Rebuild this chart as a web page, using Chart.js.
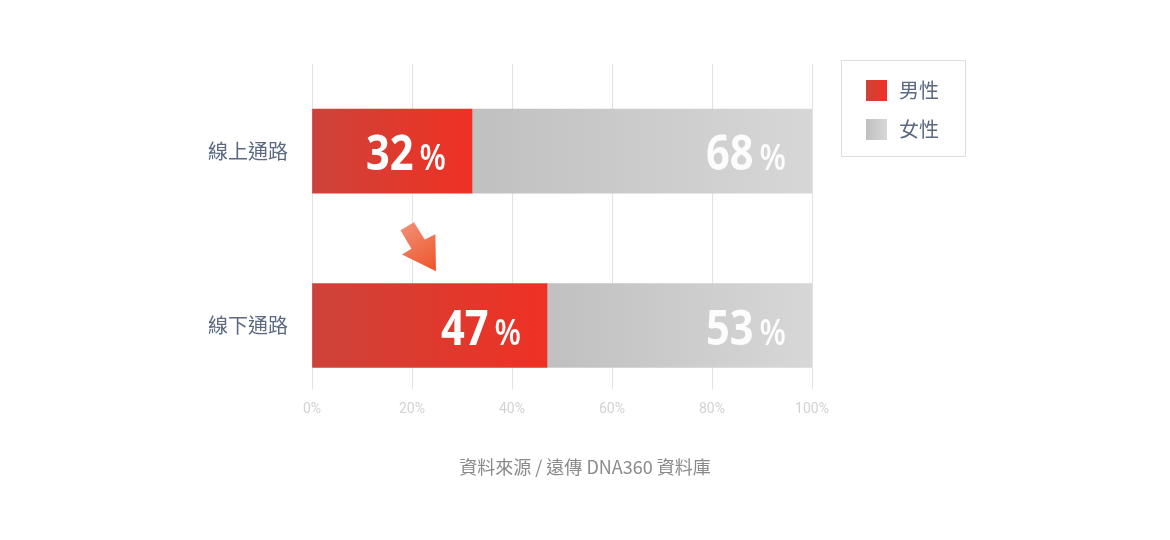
<!DOCTYPE html>
<html>
<head>
<meta charset="utf-8">
<title>線上 / 線下通路 性別比例</title>
<script src="https://cdn.jsdelivr.net/npm/chart.js@4.4.1/dist/chart.umd.min.js"></script>
<style>
  html, body { margin: 0; padding: 0; background: #fff; }
  #wrap { position: relative; width: 1170px; height: 540px; }
  #legend {
    position: absolute; left: 841px; top: 60px; width: 123px; height: 95px;
    border: 1px solid #dedede; box-sizing: content-box;
  }
  .item { position: absolute; left: 24px; height: 22px; display: flex; align-items: center; }
  .sw { width: 21px; height: 21px; margin-right: 12px; }
  .lbl { font: 20px "Noto Sans CJK TC", sans-serif; color: #5b6a82; line-height: 22px; }
  #source {
    position: absolute; left: 0; width: 1170px; top: 453px; text-align: center;
    font: 18px "Noto Sans CJK TC", sans-serif; color: #8a8a8a;
  }
</style>
</head>
<body>
<div id="wrap">
  <canvas id="chart" width="1170" height="540"></canvas>
  <div id="legend"></div>
  <div id="source">資料來源 / 遠傳 DNA360 資料庫</div>
</div>
<script>
// data
const channels = ['線上通路', '線下通路'];
const seriesNames = ['男性', '女性'];
const male = [32, 47];
const female = [68, 53];
const xTicks = [0, 20, 40, 60, 80, 100];

// colours (left -> right of each bar segment)
const maleStops = ['#cd4339', '#ef3124'];
const femaleStops = ['#c0c0c0', '#d7d7d7'];

function segmentFill(stops, startOf, endOf) {
  return (c) => {
    const chart = c.chart;
    if (!chart.chartArea || !chart.scales.x) return stops[1];
    const x = chart.scales.x;
    const i = c.dataIndex;
    const g = chart.ctx.createLinearGradient(
      x.getPixelForValue(startOf(i)), 0, x.getPixelForValue(endOf(i)), 0);
    g.addColorStop(0, stops[0]);
    g.addColorStop(1, stops[1]);
    return g;
  };
}

// big white percentage inside each bar segment
const valueLabels = {
  id: 'valueLabels',
  afterDatasetsDraw(chart) {
    const ctx = chart.ctx;
    chart.data.datasets.forEach((ds, di) => {
      chart.getDatasetMeta(di).data.forEach((bar, i) => {
        const end = bar.x - 26;
        const base = bar.y + 19;
        ctx.save();
        ctx.fillStyle = di === 0 ? '#ffffff' : 'rgba(255,255,255,0.93)';
        ctx.textBaseline = 'alphabetic';
        ctx.textAlign = 'right';
        ctx.translate(end, base);
        ctx.scale(0.85, 1);
        ctx.font = '600 36px "Open Sans", sans-serif';
        const pw = ctx.measureText('%').width;
        ctx.fillText('%', 0, 0);
        ctx.font = 'bold 49px "Open Sans", sans-serif';
        ctx.fillText(String(ds.data[i].x), -pw - 7, 0);
        ctx.restore();
      });
    });
  }
};

// decorative arrow pointing at the rise of the male share
const trendArrow = {
  id: 'trendArrow',
  afterDatasetsDraw(chart) {
    const {x, y} = chart.scales;
    const tx = x.getPixelForValue(24.8);
    const ty = y.getPixelForValue(0.688);
    const pts = [[-35.6, -41], [-22, -49], [-11.3, -31.7], [-0.6, -37], [0, 0], [-34, -16.7], [-24.6, -22.4]];
    const ctx = chart.ctx;
    ctx.save();
    const g = ctx.createLinearGradient(tx - 30, ty - 45, tx, ty);
    g.addColorStop(0, '#f18b70');
    g.addColorStop(1, '#ee5528');
    ctx.fillStyle = g;
    ctx.beginPath();
    pts.forEach(([dx, dy], k) => k ? ctx.lineTo(tx + dx, ty + dy) : ctx.moveTo(tx + dx, ty + dy));
    ctx.closePath();
    ctx.fill();
    ctx.restore();
  }
};

const chart = new Chart(document.getElementById('chart'), {
  type: 'bar',
  data: {
    datasets: [
      {
        label: seriesNames[0],
        data: male.map((v, i) => ({x: v, y: i})),
        backgroundColor: segmentFill(maleStops, () => 0, (i) => male[i])
      },
      {
        label: seriesNames[1],
        data: female.map((v, i) => ({x: v, y: i})),
        backgroundColor: segmentFill(femaleStops, (i) => male[i], () => 100)
      }
    ]
  },
  options: {
    indexAxis: 'y',
    responsive: false,
    animation: false,
    barThickness: 84,
    borderWidth: 0,
    layout: { padding: { top: 64, right: 358, bottom: 111, left: 0 } },
    plugins: { legend: { display: false }, tooltip: { enabled: false } },
    scales: {
      x: {
        type: 'linear',
        min: 0, max: 100,
        stacked: true,
        border: { display: false },
        grid: { color: '#e2e2e2', lineWidth: 1, drawTicks: false },
        afterBuildTicks: (s) => { s.ticks = xTicks.map((v) => ({value: v})); },
        ticks: {
          callback: (v) => v + '%',
          color: '#d2d2d2',
          padding: 12,
          font: { family: 'Roboto, sans-serif', size: 14 }
        },
        afterFit: (s) => { s.height = 40; }
      },
      y: {
        type: 'linear',
        reverse: true,
        offset: false,
        min: -0.5, max: 1.364,
        stacked: true,
        border: { display: false },
        grid: { display: false, drawTicks: false },
        afterBuildTicks: (s) => { s.ticks = channels.map((c, i) => ({value: i})); },
        ticks: {
          callback: (v) => channels[v] ?? '',
          color: '#5b6a82',
          padding: 24,
          font: { family: '"Noto Sans CJK TC", sans-serif', size: 20 }
        },
        afterFit: (s) => { s.width = 312; }
      }
    }
  },
  plugins: [valueLabels, trendArrow]
});

// html legend built from the datasets
const legend = document.getElementById('legend');
const swatches = [maleStops, femaleStops];
chart.data.datasets.forEach((ds, i) => {
  const item = document.createElement('div');
  item.className = 'item';
  item.style.top = (18 + i * 39) + 'px';
  const sw = document.createElement('span');
  sw.className = 'sw';
  sw.style.background = 'linear-gradient(to right, ' + swatches[i][0] + ', ' + swatches[i][1] + ')';
  const lbl = document.createElement('span');
  lbl.className = 'lbl';
  lbl.textContent = ds.label;
  item.appendChild(sw);
  item.appendChild(lbl);
  legend.appendChild(item);
});
</script>
</body>
</html>
